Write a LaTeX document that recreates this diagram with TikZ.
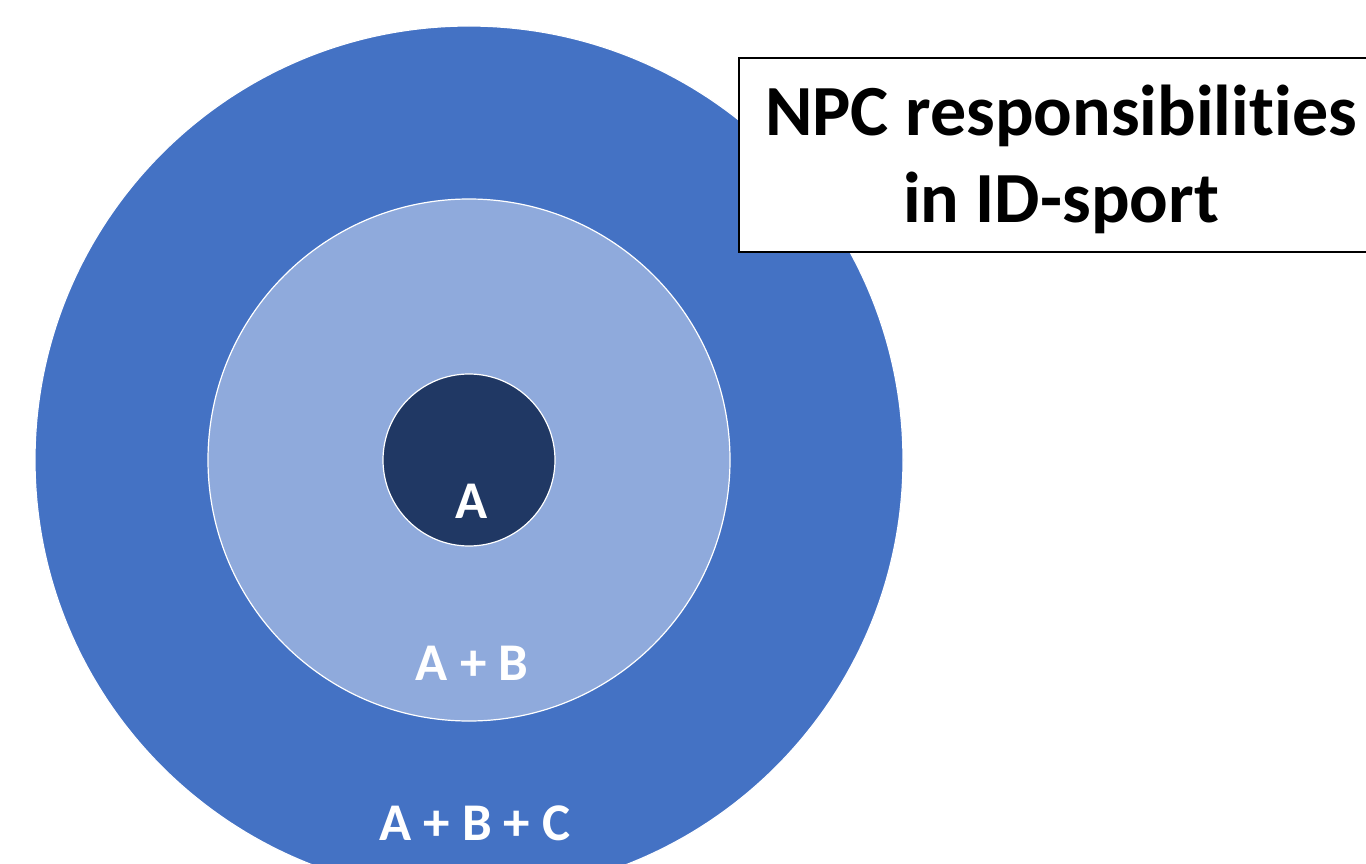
\documentclass[tikz,border=0pt]{standalone}
\usepackage{fontspec}
\setmainfont[RawFeature={-liga;-dlig;-clig}]{Carlito}
\definecolor{ringouter}{HTML}{4472C4}
\definecolor{ringmiddle}{HTML}{8FAADC}
\definecolor{ringinner}{HTML}{203864}
\begin{document}
\begin{tikzpicture}[x=1pt,y=-1pt,
  ring/.style={circle, draw=white, line width=1.2pt, inner sep=0pt},
  ringlabel/.style={text=white, font=\fontsize{53}{60}\selectfont\bfseries, anchor=base, inner sep=0pt},
  titlebox/.style={draw=black, line width=1.6pt, fill=white, minimum width=632pt, minimum height=194pt, inner sep=0pt, anchor=north west},
  titletext/.style={font=\fontsize{72}{87}\selectfont\bfseries, align=center, inner sep=0pt}
]
\useasboundingbox (0,0) rectangle (1366,864);
\fill[white] (0,0) rectangle (1366,864);

% concentric rings
\node[ring, fill=ringouter, minimum size=868pt] (outer) at (469,460) {};
\node[ring, fill=ringmiddle, minimum size=522pt] (middle) at (469,460) {};
\node[ring, fill=ringinner, minimum size=172pt] (inner) at (469,460) {};

% ring labels
\node[ringlabel] (la) at (472,518) {A};
\node[ringlabel] (lab) at (472,680) {A + B};
\node[ringlabel] (labc) at (475,840) {A + B + C};

% title box
\node[titlebox] (tbox) at (738,57) {};
\node[titletext] (title) at (1061,159) {NPC responsibilities\\in ID-sport};
\end{tikzpicture}
\end{document}
